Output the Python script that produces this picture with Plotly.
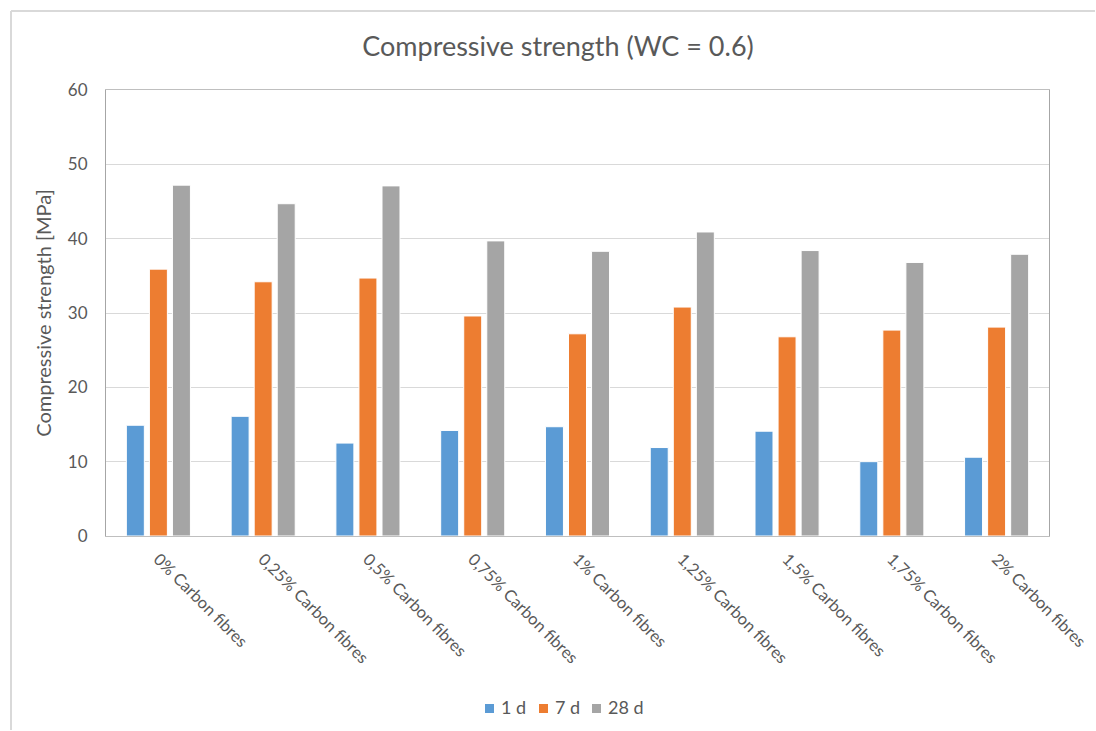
import plotly.graph_objects as go

categories = [
    "0% Carbon fibres", "0,25% Carbon fibres", "0,5% Carbon fibres",
    "0,75% Carbon fibres", "1% Carbon fibres", "1,25% Carbon fibres",
    "1,5% Carbon fibres", "1,75% Carbon fibres", "2% Carbon fibres",
]
strength_1d = [14.9, 16.1, 12.5, 14.2, 14.7, 11.9, 14.1, 10.0, 10.6]
strength_7d = [35.9, 34.2, 34.7, 29.6, 27.2, 30.8, 26.8, 27.7, 28.1]
strength_28d = [47.2, 44.7, 47.1, 39.7, 38.3, 40.9, 38.4, 36.8, 37.9]
series_names = ["1 d", "7 d", "28 d"]
series_colors = ["#5B9BD5", "#ED7D31", "#A5A5A5"]
y_ticks = [0, 10, 20, 30, 40, 50, 60]

FONT = "Lato, Open Sans, sans-serif"
TEXT = "#595959"

fig = go.Figure()
for name, vals, col in zip(series_names,
                           [strength_1d, strength_7d, strength_28d],
                           series_colors):
    fig.add_trace(go.Bar(
        x=categories, y=vals, name=name, showlegend=False,
        marker=dict(color=col, line=dict(color="white", width=1)),
    ))

W, H = 1096, 731
L, R, T, B = 106, 47, 90, 195
pw, ph = W - L - R, H - T - B


def px_x(x):
    return (x - L) / pw


def px_y(y):
    return (H - B - y) / ph


# outer chart frame: only its top and left edges fall inside the figure
frame = dict(color="#d9d9d9", width=2)
fig.add_shape(type="line", xref="paper", yref="paper", layer="below",
              x0=px_x(11), x1=px_x(W - 1), y0=px_y(11), y1=px_y(11),
              line=frame)
fig.add_shape(type="line", xref="paper", yref="paper", layer="below",
              x0=px_x(11), x1=px_x(11), y0=px_y(11), y1=px_y(H - 1),
              line=frame)

# legend row below the category labels
legend_x = [485, 539, 592]
for name, col, lx in zip(series_names, series_colors, legend_x):
    fig.add_shape(type="rect", xref="paper", yref="paper",
                  x0=px_x(lx), x1=px_x(lx + 9), y0=px_y(713), y1=px_y(704),
                  fillcolor=col, line=dict(width=0))
    fig.add_annotation(xref="paper", yref="paper", x=px_x(lx + 14),
                       y=px_y(707), xanchor="left", yanchor="middle",
                       text=name, showarrow=False,
                       font=dict(family=FONT, size=18, color=TEXT))

fig.update_layout(
    width=W, height=H,
    margin=dict(l=L, r=R, t=T, b=B),
    paper_bgcolor="white", plot_bgcolor="white",
    barmode="group", bargap=0.34, bargroupgap=0.22,
    font=dict(family=FONT, color=TEXT, size=17),
    title=dict(
        text="Compressive strength (WC = 0.6)",
        x=558 / W, xanchor="center", y=1 - 47 / H, yanchor="middle",
        font=dict(family=FONT, size=27, color=TEXT),
    ),
    showlegend=False,
)

fig.update_xaxes(
    tickangle=45, tickfont=dict(family=FONT, size=16.5, color=TEXT),
    showline=True, linecolor="#bfbfbf", linewidth=1, mirror=True,
    ticks="", showgrid=False, ticklabelstandoff=6, automargin=False,
)
fig.update_yaxes(
    range=[0, 60], tickvals=y_ticks,
    tickfont=dict(family=FONT, size=17, color=TEXT),
    title=dict(text="Compressive strength [MPa]",
               font=dict(family=FONT, size=20, color=TEXT), standoff=10),
    showline=True, linecolor="#a6a6a6", linewidth=1, mirror=True,
    showgrid=True, gridcolor="#d9d9d9", gridwidth=1,
    zeroline=False, ticks="", ticklabelstandoff=14, automargin=False,
)

fig.write_html("out.html")
